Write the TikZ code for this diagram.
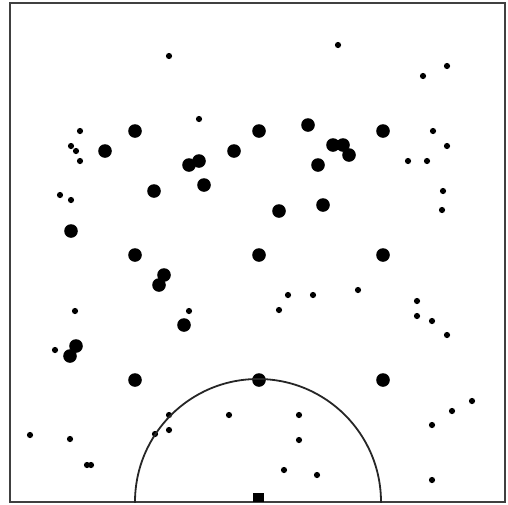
\documentclass[tikz,border=0pt]{standalone}
\begin{document}
\begin{tikzpicture}[x=0.5pt,y=-0.5pt,
  bigdot/.style={fill=black},
  smalldot/.style={fill=black},
  framebox/.style={draw=black!75,line width=0.6pt},
  ring/.style={draw=black!85,line width=0.9pt}]
\useasboundingbox (0,0) rectangle (508,504);
\draw[framebox] (10,3) rectangle (505,502);
% large dots
\foreach \x/\y in {135/131,259/131,383/131,135/255,259/255,383/255,135/380,259/380,383/380,
  105/151,234/151,189/165,199/161,308/125,333/145,343/145,349/155,318/165,
  154/191,204/185,71/231,279/211,323/205,164/275,159/285,184/325,76/346,70/356}
  \fill[bigdot] (\x,\y) circle[radius=6.8];
% small dots
\foreach \x/\y in {169/56,338/45,423/76,447/66,199/119,80/131,71/146,76/151,80/161,
  408/161,427/161,433/131,447/146,60/195,71/200,443/191,442/210,75/311,189/311,
  288/295,313/295,358/290,279/310,417/301,417/316,432/321,447/335,55/350,30/435,
  70/439,87/465,91/465,169/415,155/434,169/430,229/415,299/415,299/440,284/470,
  317/475,472/401,452/411,432/425,432/480}
  \fill[smalldot] (\x,\y) circle[radius=3.1];
\begin{scope}
\clip (10,3) rectangle (505,502);
\draw[ring] (258,502) circle[radius=123];
\end{scope}
\fill (253,493) rectangle (264,502);
\end{tikzpicture}
\end{document}
